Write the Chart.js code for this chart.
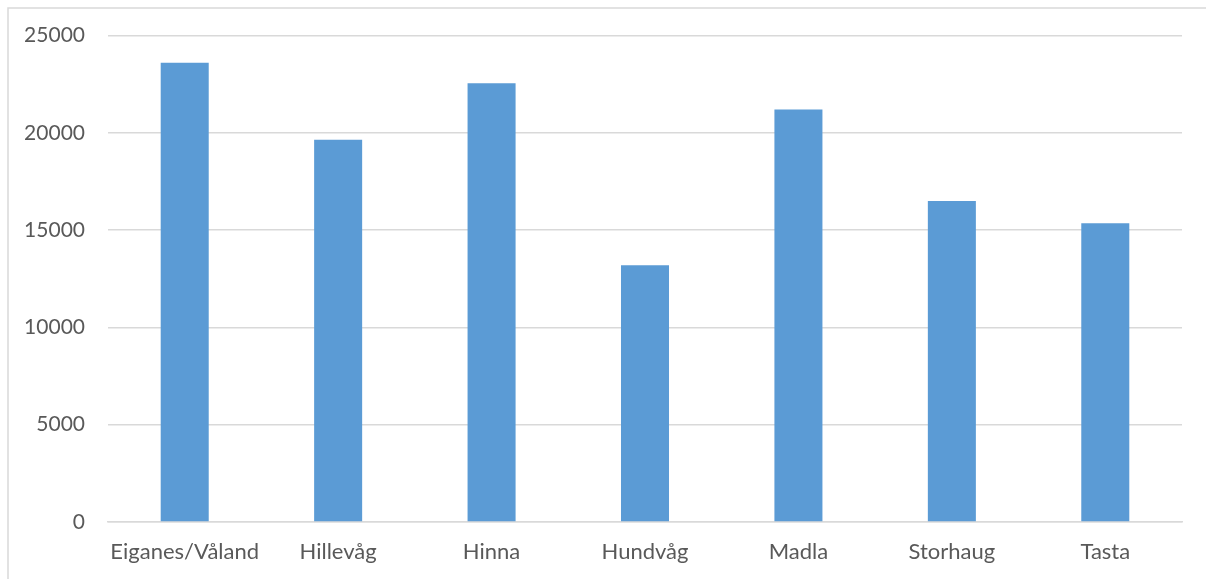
<!DOCTYPE html>
<html>
<head>
<meta charset="utf-8">
<script src="https://cdn.jsdelivr.net/npm/chart.js@4"></script>
<style>
html,body{margin:0;padding:0;background:#fff;}
#wrap{position:relative;width:1206px;height:579px;}
</style>
</head>
<body>
<div id="wrap"><canvas id="c" width="1206" height="579"></canvas></div>
<script>
const categories = ["Eiganes/Våland","Hillevåg","Hinna","Hundvåg","Madla","Storhaug","Tasta"];
const values = [23600, 19650, 22550, 13200, 21200, 16500, 15350];
const yTicks = [0, 5000, 10000, 15000, 20000, 25000];

const frame = {
  id: 'frame',
  beforeDraw(chart) {
    const ctx = chart.ctx;
    ctx.save();
    ctx.fillStyle = '#fff';
    ctx.fillRect(0, 0, chart.width, chart.height);
    ctx.strokeStyle = '#d9d9d9';
    ctx.lineWidth = 1.5;
    ctx.beginPath();
    ctx.moveTo(8, chart.height + 2);
    ctx.lineTo(8, 8);
    ctx.lineTo(chart.width + 2, 8);
    ctx.stroke();
    ctx.restore();
  }
};

new Chart(document.getElementById('c'), {
  type: 'bar',
  data: {
    labels: categories,
    datasets: [{
      data: values,
      backgroundColor: '#5b9bd5',
      borderWidth: 0,
      categoryPercentage: 1,
      barPercentage: 0.313
    }]
  },
  options: {
    responsive: false,
    animation: false,
    devicePixelRatio: 1,
    layout: { padding: { left: 0, right: 24, top: 3, bottom: 0 } },
    plugins: { legend: { display: false }, tooltip: { enabled: false } },
    scales: {
      x: {
        grid: { display: false, drawTicks: false },
        border: { display: true, color: '#d9d9d9', width: 1.5 },
        ticks: {
          color: '#595959',
          font: { family: 'Lato', size: 22 },
          padding: 17,
          maxRotation: 0,
          autoSkip: false
        },
        afterFit(scale) { scale.height = 57; }
      },
      y: {
        min: 0, max: 25000,
        afterBuildTicks(scale) { scale.ticks = yTicks.map(v => ({ value: v })); },
        grid: { color: '#d9d9d9', lineWidth: 1.5, drawTicks: false },
        border: { display: false },
        ticks: {
          color: '#595959',
          font: { family: 'Lato', size: 21 },
          padding: 23,
          callback: v => String(v)
        },
        afterFit(scale) { scale.width = 108; }
      }
    }
  },
  plugins: [frame]
});
</script>
</body>
</html>
